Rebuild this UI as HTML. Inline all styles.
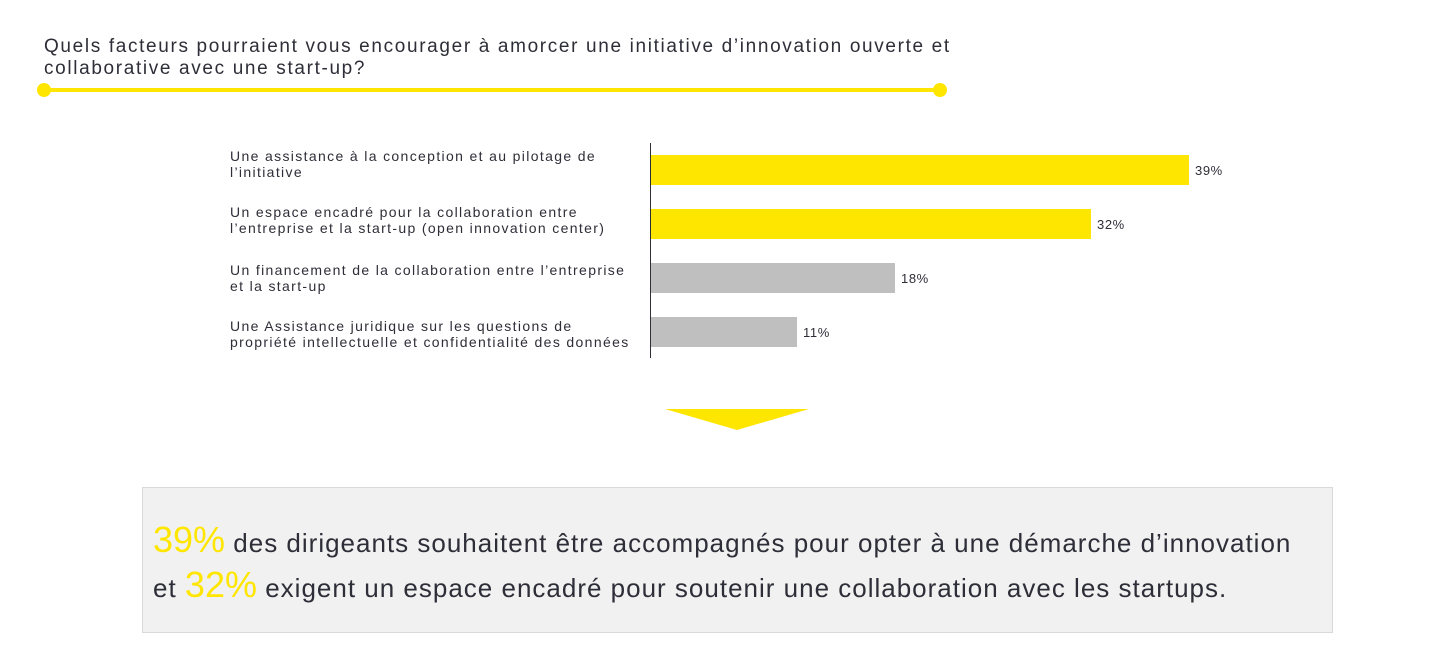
<!DOCTYPE html>
<html><head><meta charset="utf-8"><style>
body{margin:0;width:1432px;height:668px;background:#fff;position:relative;font-family:"Liberation Sans",sans-serif;color:#2e2e38;overflow:hidden}
.a{position:absolute}
.t{left:44px;top:36px;font-size:19px;line-height:22px;letter-spacing:1.65px;white-space:nowrap}
.l{left:230px;font-size:14px;line-height:16px;letter-spacing:1.35px;white-space:nowrap}
.bar{position:absolute;left:651px;height:30px}
.v{font-size:13px;letter-spacing:0.6px}
.box{left:142px;top:487px;width:1189px;height:144px;background:#f1f1f1;border:1px solid #d9d9d9}
.bt{left:153px;top:519px;font-size:26px;line-height:42px;color:#2e2e38;white-space:nowrap;letter-spacing:1px}
.y{color:#ffe600;font-size:36px;letter-spacing:0}
</style></head><body>
<div class="a t">Quels facteurs pourraient vous encourager à amorcer une initiative d’innovation ouverte et<br>collaborative avec une start-up?</div>
<div class="a" style="left:44px;top:88px;width:896px;height:4px;background:#ffe600"></div>
<div class="a" style="left:37px;top:83px;width:14px;height:14px;border-radius:50%;background:#ffe600"></div>
<div class="a" style="left:933px;top:83px;width:14px;height:14px;border-radius:50%;background:#ffe600"></div>

<div class="a" style="left:650px;top:143px;width:1px;height:215px;background:#2e2e38"></div>
<div class="a l" style="top:148px">Une assistance à la conception et au pilotage de<br>l’initiative</div>
<div class="a l" style="top:204px">Un espace encadré pour la collaboration entre<br>l’entreprise et la start-up (open innovation center)</div>
<div class="a l" style="top:262px">Un financement de la collaboration entre l’entreprise<br>et la start-up</div>
<div class="a l" style="top:318px">Une Assistance juridique sur les questions de<br>propriété intellectuelle et confidentialité des données</div>
<div class="bar" style="top:155px;width:538px;background:#ffe600"></div>
<div class="bar" style="top:209px;width:440px;background:#ffe600"></div>
<div class="bar" style="top:263px;width:244px;background:#bfbfbf"></div>
<div class="bar" style="top:317px;width:146px;background:#bfbfbf"></div>
<div class="a v" style="left:1195px;top:163px">39%</div>
<div class="a v" style="left:1097px;top:217px">32%</div>
<div class="a v" style="left:901px;top:271px">18%</div>
<div class="a v" style="left:803px;top:325px">11%</div>

<svg class="a" style="left:0;top:0" width="1432" height="668"><polygon points="665,409 809,409 737,430" fill="#ffe600"/></svg>

<div class="a box"></div>
<div class="a bt"><span class="y">39%</span> des dirigeants souhaitent être accompagnés pour opter à une démarche d’innovation<br>et <span class="y">32%</span> exigent un espace encadré pour soutenir une collaboration avec les startups.</div>
</body></html>
